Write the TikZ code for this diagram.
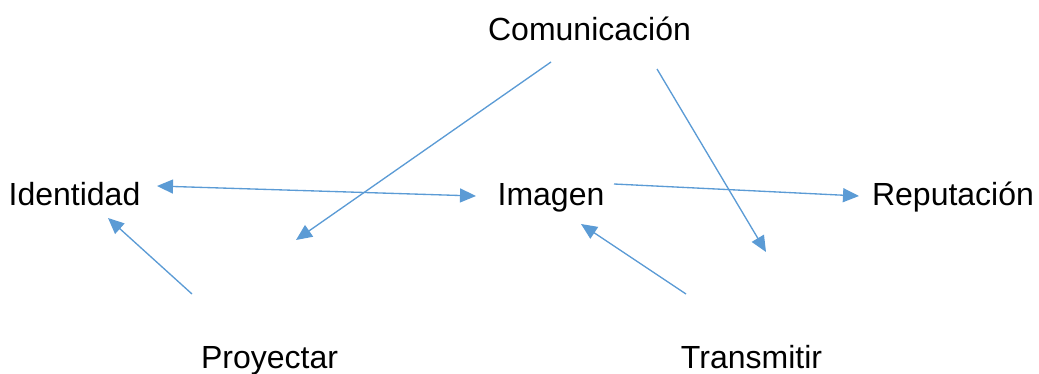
\documentclass[tikz,border=0pt]{standalone}
\usepackage{fontspec}
\setmainfont{Liberation Sans}
\usetikzlibrary{arrows.meta}
\definecolor{flecha}{HTML}{5B9BD5}
\tikzset{
    concepto/.style={anchor=base,inner sep=0pt,font=\fontsize{24}{29}\selectfont},
    enlace/.style={draw=flecha,line width=1pt,-{Triangle[length=12pt,width=10.5pt]}},
}
\begin{document}
\begin{tikzpicture}[x=0.75pt,y=-0.75pt]
                \useasboundingbox (0,0) rectangle (1039,374);
                % conceptos
                \node[concepto] (com) at (589.5,41) {Comunicación};
                \node[concepto] (ide) at (74.5,205.5) {Identidad};
                \node[concepto] (ima) at (551,205.5) {Imagen};
                \node[concepto] (rep) at (953,205.5) {Reputación};
                \node[concepto] (pro) at (269.5,368) {Proyectar};
                \node[concepto] (tra) at (751.5,368) {Transmitir};
                % extremos de las flechas
                \coordinate (ideE) at (157,186);
                \coordinate (imaW) at (476,196);
                \coordinate (imaE) at (614,184);
                \coordinate (repW) at (859,196);
                \coordinate (comA) at (551,62);
                \coordinate (comB) at (657,69);
                \coordinate (proN) at (296,240);
                \coordinate (traN) at (766,252);
                \coordinate (proA) at (192,294);
                \coordinate (ideS) at (108,218);
                \coordinate (traA) at (686,294);
                \coordinate (imaS) at (581,224);
                % flechas
                \draw[enlace,{Triangle[length=12pt,width=10.5pt]}-{Triangle[length=12pt,width=10.5pt]}] (ideE) -- (imaW);
                \draw[enlace] (imaE) -- (repW);
                \draw[enlace] (comA) -- (proN);
                \draw[enlace] (comB) -- (traN);
                \draw[enlace] (proA) -- (ideS);
                \draw[enlace] (traA) -- (imaS);
\end{tikzpicture}
\end{document}
